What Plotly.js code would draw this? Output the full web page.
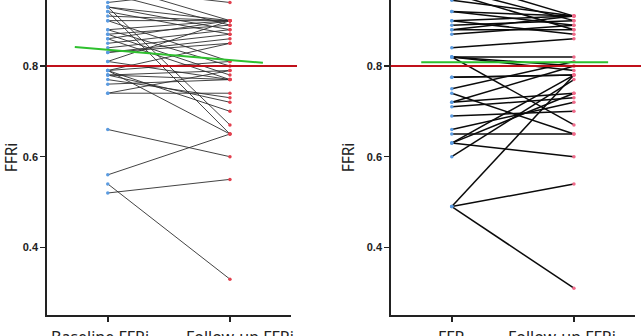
<!DOCTYPE html>
<html><head><meta charset="utf-8">
<script src="https://cdn.plot.ly/plotly-3.0.1.min.js"></script>
<style>html,body{margin:0;padding:0;background:#fff;}#chart{width:641px;height:336px;}</style>
</head><body><div id="chart"></div>
<script>
// ---- data ----
const leftCategories = ['Baseline FFRi', 'Follow-up FFRi'];
const rightCategories = ['FFR', 'Follow-up FFRi'];
const yTitle = 'FFRi';

const leftBaseline = [0.94,0.97,0.98,0.96,0.93,0.92,0.93,0.93,0.92,0.91,0.90,0.90,0.88,0.87,0.86,0.85,0.84,0.83,0.88,0.87,0.86,0.81,0.79,0.81,0.79,0.79,0.78,0.78,0.77,0.76,0.74,0.74,0.78,0.83,0.66,0.56,0.52,0.54,0.79];
const leftFollowup = [0.97,0.94,0.90,0.89,0.90,0.65,0.67,0.88,0.87,0.90,0.90,0.81,0.90,0.89,0.90,0.88,0.87,0.85,0.80,0.78,0.77,0.90,0.85,0.77,0.65,0.70,0.72,0.77,0.73,0.77,0.79,0.74,0.79,0.86,0.60,0.65,0.55,0.33,0.81];

const rightBaseline = [0.945,0.97,0.96,0.99,0.92,0.92,0.90,0.90,0.89,0.88,0.88,0.87,0.84,0.82,0.82,0.82,0.82,0.775,0.75,0.74,0.72,0.72,0.71,0.69,0.66,0.65,0.63,0.63,0.63,0.60,0.49,0.49,0.49,0.775];
const rightFollowup = [0.91,0.90,0.88,0.91,0.91,0.89,0.91,0.87,0.90,0.91,0.88,0.89,0.86,0.82,0.80,0.67,0.79,0.78,0.81,0.65,0.80,0.74,0.73,0.70,0.72,0.65,0.78,0.74,0.60,0.77,0.78,0.54,0.31,0.78];

const leftMeanX = [-0.27, 1.27], leftMean = [0.842, 0.807];
const rightMeanX = [-0.25, 1.28], rightMean = [0.808, 0.808];
const cutoff = 0.8;
const yTicks = [0.4, 0.6, 0.8];
const yTickText = ['0.4', '0.6', '0.8'];

// ---- build traces ----
function pairLines(base, follow) {
  const x = [], y = [];
  for (let i = 0; i < base.length; i++) { x.push(0, 1, null); y.push(base[i], follow[i], null); }
  return {x, y};
}
const L = pairLines(leftBaseline, leftFollowup);
const R = pairLines(rightBaseline, rightFollowup);

const traces = [
  {x: L.x, y: L.y, xaxis: 'x', yaxis: 'y', mode: 'lines', line: {color: '#2e2e2e', width: 0.9}, hoverinfo: 'skip'},
  {x: leftBaseline.map(() => 0), y: leftBaseline, xaxis: 'x', yaxis: 'y', mode: 'markers', marker: {color: '#5b9be0', size: 3.5}},
  {x: leftFollowup.map(() => 1), y: leftFollowup, xaxis: 'x', yaxis: 'y', mode: 'markers', marker: {color: '#e2404e', size: 3.5}},
  {x: leftMeanX, y: leftMean, xaxis: 'x', yaxis: 'y', mode: 'lines', line: {color: '#2ec02e', width: 2}},
  {x: R.x, y: R.y, xaxis: 'x2', yaxis: 'y2', mode: 'lines', line: {color: '#0a0a0a', width: 1.5}, hoverinfo: 'skip'},
  {x: rightBaseline.map(() => 0), y: rightBaseline, xaxis: 'x2', yaxis: 'y2', mode: 'markers', marker: {color: '#5b9be0', size: 3.5}},
  {x: rightFollowup.map(() => 1), y: rightFollowup, xaxis: 'x2', yaxis: 'y2', mode: 'markers', marker: {color: '#f06a8a', size: 3.5}},
  {x: rightMeanX, y: rightMean, xaxis: 'x2', yaxis: 'y2', mode: 'lines', line: {color: '#2ec02e', width: 2}}
];

const W = 641, PH = 315;
const xCommon = {
  range: [-0.5, 1.5], tickmode: 'array', tickvals: [0, 1], ticktext: ['', ''],
  showline: true, linecolor: '#222', linewidth: 1.5, ticks: 'outside', ticklen: 5, tickwidth: 1.5, tickcolor: '#222',
  showgrid: false, zeroline: false
};
const yCommon = {
  range: [0.251, 0.9455], tickmode: 'array', tickvals: yTicks, ticktext: yTickText,
  showline: true, linecolor: '#222', linewidth: 1.5, ticks: 'outside', ticklen: 5, tickwidth: 1.5, tickcolor: '#222',
  showgrid: false, zeroline: false, tickfont: {family: 'Liberation Sans', size: 11, color: '#222', weight: 'bold'},
  title: {text: yTitle, standoff: 8, font: {family: 'Noto Sans', size: 15.5, color: '#222'}}
};

// category label centres (pixels) as seen in the reference
const labelFont = {family: 'Noto Sans', size: 16, color: '#222'};
const catLabels = [
  {text: leftCategories[0], px: 100},
  {text: leftCategories[1], px: 240},
  {text: rightCategories[0], px: 451},
  {text: rightCategories[1], px: 562}
].map(c => ({text: c.text, xref: 'paper', yref: 'paper', x: c.px / W, y: -(324 - PH) / PH,
  xanchor: 'center', yanchor: 'top', showarrow: false, font: labelFont}));

const layout = {
  width: 641, height: 336, showlegend: false,
  margin: {l: 0, r: 0, t: 0, b: 21, pad: 0},
  paper_bgcolor: '#fff', plot_bgcolor: '#fff',
  xaxis: Object.assign({}, xCommon, {domain: [46.7 / W, 291 / W], anchor: 'y'}),
  yaxis: Object.assign({}, yCommon, {domain: [0, 1], anchor: 'x'}),
  xaxis2: Object.assign({}, xCommon, {domain: [390.7 / W, 635 / W], anchor: 'y2'}),
  yaxis2: Object.assign({}, yCommon, {domain: [0, 1], anchor: 'x2'}),
  shapes: [
    {type: 'line', xref: 'paper', yref: 'y', x0: 46.7 / W, x1: 297 / W, y0: cutoff, y1: cutoff, line: {color: '#c0101a', width: 2}},
    {type: 'line', xref: 'paper', yref: 'y2', x0: 390.7 / W, x1: 1, y0: cutoff, y1: cutoff, line: {color: '#c0101a', width: 2}}
  ],
  annotations: catLabels
};

Plotly.newPlot('chart', traces, layout, {displayModeBar: false, staticPlot: true});
</script></body></html>
